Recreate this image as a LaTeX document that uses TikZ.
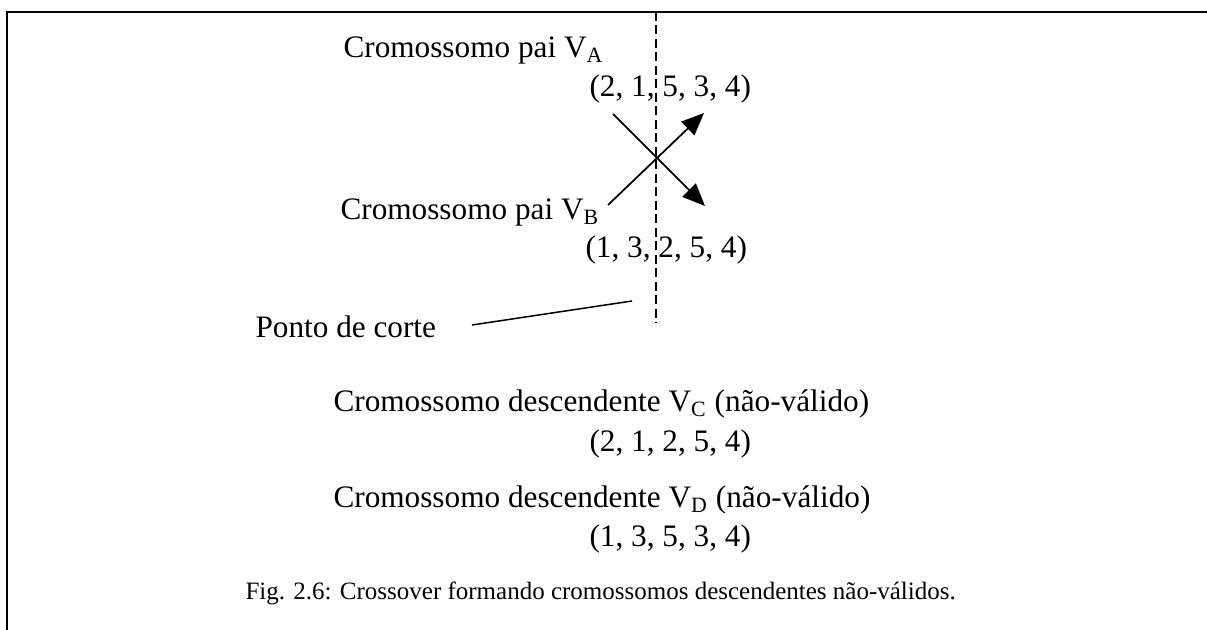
\documentclass[tikz,border=0pt]{standalone}
\usepackage{fontspec}
\setmainfont{Liberation Serif}
\usetikzlibrary{arrows.meta}

\begin{document}
\begin{tikzpicture}[x=0.4pt, y=-0.4pt,
    txt/.style={anchor=base west, inner sep=0pt, font=\fontsize{12.5}{15}\selectfont},
    captxt/.style={anchor=base west, inner sep=0pt, font=\fontsize{10}{12}\selectfont},
    crossarrow/.style={-{Triangle[length=9pt, width=7.5pt]}, line width=0.7pt},
    cutline/.style={dash pattern=on 3.6pt off 1.8pt, line width=0.5pt}
]
    \useasboundingbox (0,0) rectangle (1207,630);

    % Frame
    \draw[line width=0.8pt] (7,630) -- (7,12) -- (1207,12);

    % Parent chromosomes
    \node[txt] (paiA) at (343,58) {Cromossomo pai V\textsubscript{A}};
    \node[txt] (vecA) at (589,97) {(2, 1, 5, 3, 4)};
    \node[txt] (paiB) at (340,220) {Cromossomo pai V\textsubscript{B}};
    \node[txt] (vecB) at (585,258) {(1, 3, 2, 5, 4)};

    % Cut point
    \coordinate (cutTop) at (656,12);
    \coordinate (cutBot) at (656,323);
    \draw[cutline] (cutTop) -- (cutBot);
    \node[txt] (corte) at (255,338) {Ponto de corte};
    \coordinate (corteStart) at (472,325);
    \coordinate (corteEnd) at (632,301);
    \draw[line width=0.6pt] (corteStart) -- (corteEnd);

    % Crossover
    \coordinate (xAstart) at (613,114);
    \coordinate (xAend) at (705,206);
    \coordinate (xBstart) at (608,205);
    \coordinate (xBend) at (704,113);
    \draw[crossarrow] (xAstart) -- (xAend);
    \draw[crossarrow] (xBstart) -- (xBend);

    % Offspring
    \node[txt] (filhoC) at (333,412) {Cromossomo descendente V\textsubscript{C} (não-válido)};
    \node[txt] (vecC) at (589,452) {(2, 1, 2, 5, 4)};
    \node[txt] (filhoD) at (333,508) {Cromossomo descendente V\textsubscript{D} (não-válido)};
    \node[txt] (vecD) at (589,547) {(1, 3, 5, 3, 4)};

    % Caption
    \node[captxt] (legenda) at (245,600) {Fig. 2.6: Crossover formando cromossomos descendentes não-válidos.};
\end{tikzpicture}
\end{document}
